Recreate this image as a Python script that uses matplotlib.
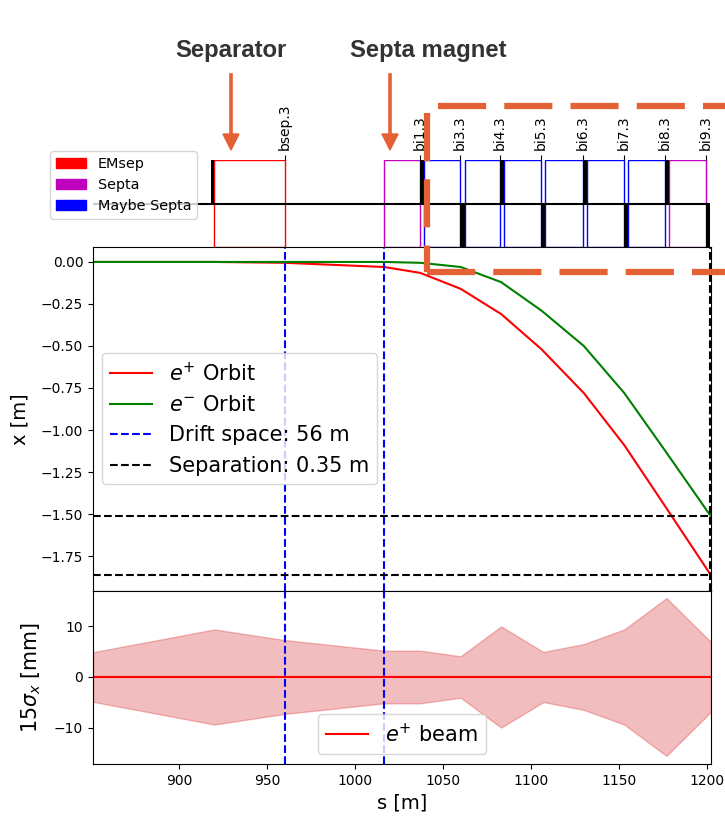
import matplotlib
matplotlib.use("Agg")
import matplotlib.pyplot as plt
from matplotlib.lines import Line2D
from matplotlib.patches import Patch

W, H = 725, 817
orange = "#E46035"

# lattice layout
sep_start = [920.0]
sep_end = [960.0]
septa_start = [1016.5, 1178.4]
septa_end = [1037.0, 1199.4]
maybe_start = [1039.2, 1062.5, 1084.7, 1108.0, 1131.8, 1155.1]
maybe_end = [1059.7, 1082.4, 1105.7, 1129.5, 1152.8, 1176.1]
bend_up_start = [918.0, 1037.0, 1082.4, 1129.5, 1176.1]
bend_up_end = [920.0, 1039.2, 1084.7, 1131.8, 1178.4]
bend_down_start = [1059.7, 1105.7, 1152.8, 1199.4]
bend_down_end = [1062.5, 1108.0, 1155.1, 1201.7]
tick_s = [960.0, 1037.0, 1059.7, 1082.4, 1105.7, 1129.5, 1152.8, 1176.1, 1199.4]
tick_names = ["bsep.3", "bi1.3", "bi3.3", "bi4.3", "bi5.3", "bi6.3", "bi7.3", "bi8.3", "bi9.3"]

# orbits
s_orbit = [851, 920, 960, 1016.5, 1037, 1060, 1083, 1106, 1130, 1153, 1176, 1202]
x_pos = [0.0, 0.0, -0.005, -0.03, -0.065, -0.16, -0.31, -0.52, -0.78, -1.09, -1.45, -1.86]
x_ele = [0.0, 0.0, 0.0, 0.0, -0.005, -0.03, -0.12, -0.29, -0.50, -0.78, -1.12, -1.51]

# beam size
s_beam = [851, 920, 960, 1016.5, 1037, 1060, 1083, 1107, 1130, 1153, 1177, 1202.3]
sigma = [4.9, 9.4, 7.3, 5.2, 5.2, 4.1, 10.0, 4.95, 6.5, 9.4, 15.6, 6.9]

s_drift = [960, 1016.5]
s_end = 1201.7
x_sep = [-1.51, -1.86]


def axbox(left, top, right, bottom):
    return [left / W, 1 - bottom / H, (right - left) / W, (bottom - top) / H]


def fx(px):
    return px / W


def fy(py):
    return 1 - py / H


fig = plt.figure(figsize=(7.25, 8.17), dpi=100)
ax0 = fig.add_axes(axbox(93, 160, 711, 247))
ax1 = fig.add_axes(axbox(93, 247, 711, 591))
ax2 = fig.add_axes(axbox(93, 591, 711, 764))
xlim = (851, 1202.3)


def boxes(starts, ends, color):
    w = [e - a for a, e in zip(starts, ends)]
    ax0.bar(starts, [2] * len(w), width=w, bottom=-1, align="edge", fill=False, edgecolor=color, lw=1)


# top panel: magnets
boxes(maybe_start, maybe_end, "b")
boxes(septa_start, septa_end, "m")
boxes(sep_start, sep_end, "r")
ax0.bar(bend_up_start, [1] * len(bend_up_start), width=[e - a for a, e in zip(bend_up_start, bend_up_end)],
        bottom=0, align="edge", color="k")
ax0.bar(bend_down_start, [1] * len(bend_down_start), width=[e - a for a, e in zip(bend_down_start, bend_down_end)],
        bottom=-1, align="edge", color="k")
ax0.hlines(0, xlim[0], s_end, color="k", lw=1.5)
ax0.set_xlim(xlim)
ax0.set_ylim(-1, 1)
ax0.set_yticks([])
ax0.xaxis.tick_top()
ax0.set_xticks(tick_s)
ax0.set_xticklabels(tick_names, rotation=90, fontsize=10)
for sp in ax0.spines.values():
    sp.set_visible(False)
handles = [Patch(color="r", label="EMsep"), Patch(color="m", label="Septa"), Patch(color="b", label="Maybe Septa")]
ax0.legend(handles=handles, loc="upper left", bbox_to_anchor=(fx(50), fy(151)), bbox_transform=fig.transFigure,
           borderaxespad=0, fontsize=10.4, handlelength=2.1)

# middle panel: orbits
ax1.plot(s_orbit, x_pos, color="r", lw=1.5, label="$e^{+}$ Orbit")
ax1.plot(s_orbit, x_ele, color="g", lw=1.5, label="$e^{-}$ Orbit")
ax1.axvline(s_drift[0], color="b", ls="--", lw=1.5, label="Drift space: 56 m")
ax1.axvline(s_drift[1], color="b", ls="--", lw=1.5)
ax1.axhline(x_sep[0], color="k", ls="--", lw=1.5, label="Separation: 0.35 m")
ax1.axhline(x_sep[1], color="k", ls="--", lw=1.5)
ax1.axvline(s_end, color="k", ls="--", lw=1.5)
ax1.set_xlim(xlim)
ax1.set_ylim(-1.958, 0.089)
ax1.set_xticks([])
ax1.set_ylabel("x [m]", fontsize=14)
ax1.yaxis.set_label_coords((30 - 93) / 618, 0.5)
ax1.legend(loc="upper left", bbox_to_anchor=(fx(102), fy(353)), bbox_transform=fig.transFigure,
           borderaxespad=0, fontsize=15)

# bottom panel: beam
ax2.fill_between(s_beam, [-v for v in sigma], sigma, color="tab:red", alpha=0.3)
ax2.axhline(0, color="r", lw=1.5, label="$e^{+}$ beam")
ax2.axvline(s_drift[0], color="b", ls="--", lw=1.5)
ax2.axvline(s_drift[1], color="b", ls="--", lw=1.5)
ax2.set_xlim(xlim)
ax2.set_ylim(-17.2, 17)
ax2.set_yticks([-10, 0, 10])
ax2.set_xlabel("s [m]", fontsize=14)
ax2.set_ylabel("$15\\sigma_x$ [mm]", fontsize=14.8)
ax2.yaxis.set_label_coords((43 - 93) / 618, 0.5)
ax2.legend(loc="upper left", bbox_to_anchor=(fx(318), fy(714)), bbox_transform=fig.transFigure,
           borderaxespad=0, fontsize=15)

# annotations on top of the figure
fig.text(fx(230.5), fy(50), "Separator", family="Liberation Sans", weight="bold", fontsize=17.2,
         color="#333333", ha="center", va="center")
fig.text(fx(428), fy(50), "Septa magnet", family="Liberation Sans", weight="bold", fontsize=17.2,
         color="#333333", ha="center", va="center")
for xp in (231, 390):
    fig.add_artist(Line2D([fx(xp), fx(xp)], [fy(75), fy(136)], color=orange, lw=2.6))
    ax_arrow = plt.Polygon([[fx(xp - 8), fy(134)], [fx(xp + 8), fy(134)], [fx(xp), fy(150)]],
                           closed=True, color=orange, transform=fig.transFigure)
    fig.add_artist(ax_arrow)
dash = dict(color=orange, lw=4.5, dashes=(7.7, 2.9), dash_capstyle="butt")
fig.add_artist(Line2D([fx(438), fx(725)], [fy(105.5), fy(105.5)], **dash))
fig.add_artist(Line2D([fx(427), fx(427)], [fy(113), fy(272)], **dash))
fig.add_artist(Line2D([fx(427), fx(725)], [fy(272), fy(272)], **dash))

fig.savefig("out.png", dpi=100)
